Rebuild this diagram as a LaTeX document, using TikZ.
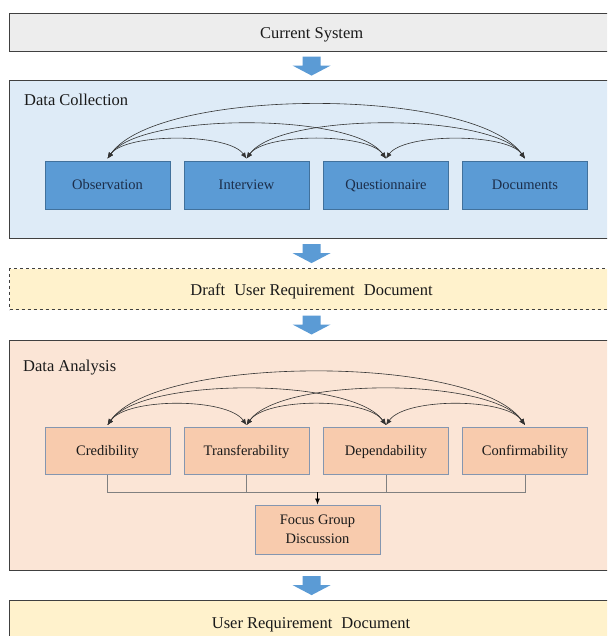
\documentclass[tikz,border=0pt]{standalone}
\usepackage{fontspec}
\setmainfont{Liberation Serif}
\usetikzlibrary{arrows.meta,calc}
\definecolor{framegray}{HTML}{404040}
\definecolor{csfill}{HTML}{EDEDED}
\definecolor{dcfill}{HTML}{DEEBF7}
\definecolor{bluebox}{HTML}{5B9BD5}
\definecolor{blueedge}{HTML}{41719C}
\definecolor{bluetext}{HTML}{1C2E4A}
\definecolor{docfill}{HTML}{FFF2CC}
\definecolor{dafill}{HTML}{FBE5D6}
\definecolor{orangebox}{HTML}{F8CBAD}
\definecolor{orangeedge}{HTML}{8496B0}
\definecolor{arrowblue}{HTML}{5B9BD5}
\definecolor{txt}{HTML}{1A1A1A}
\definecolor{connline}{HTML}{808080}
\newcommand{\bigfont}{\fontsize{16.5}{20}\selectfont}
\newcommand{\smallfont}{\fontsize{14.5}{19}\selectfont}
\newcommand{\blockarrowat}[1]{%
  \fill[arrowblue] ($(#1)+(-9,-9.5)$) -- ($(#1)+(9,-9.5)$) -- ($(#1)+(9,-0.5)$) --
    ($(#1)+(19,-0.5)$) -- ($(#1)+(0,9.5)$) -- ($(#1)+(-19,-0.5)$) -- ($(#1)+(-9,-0.5)$) -- cycle;}
\tikzset{
  outerbox/.style={draw=framegray, line width=1.2pt, anchor=north west, minimum width=604pt, inner sep=0pt, text=txt, font=\bigfont},
  biglabel/.style={text=txt, font=\bigfont, inner sep=0pt, yshift=-2pt},
  bluenode/.style={draw=blueedge, fill=bluebox, line width=0.8pt, minimum width=125pt, minimum height=48pt, inner sep=0pt, text=bluetext, font=\smallfont, text depth=1pt},
  orangenode/.style={draw=orangeedge, fill=orangebox, line width=0.9pt, minimum width=125pt, minimum height=47pt, inner sep=0pt, text=txt, font=\smallfont, text depth=1pt},
  titletext/.style={anchor=west, text=txt, font=\bigfont, inner sep=0pt, yshift=-1pt},
  arc/.style={draw=black!80, line width=0.6pt, {Latex[length=6pt,width=5pt]}-{Latex[length=6pt,width=5pt]}},
  conn/.style={draw=connline, line width=0.7pt},
}
\begin{document}
\begin{tikzpicture}[x=1pt,y=-1pt]
\useasboundingbox (0,0) rectangle (607,636);
\clip (0,0) rectangle (607,636);
\fill[white] (0,0) rectangle (607,636);

% Current System
\node[outerbox, fill=csfill, minimum height=38pt] (cs) at (9,13) {};
\node[biglabel] (cst) at (cs.center) {Current System};

% Data Collection
\node[outerbox, fill=dcfill, minimum height=158pt] (dc) at (9,80) {};
\node[titletext] (dct) at (24,99) {Data Collection};
\node[bluenode] (ob) at (107.5,185) {Observation};
\node[bluenode] (iv) at (246.5,185) {Interview};
\node[bluenode] (qu) at (386,185) {Questionnaire};
\node[bluenode] (do) at (525,185) {Documents};

\draw[arc] ([yshift=2pt]ob.north) to[out=55,in=125,looseness=0.58] ([yshift=2pt]iv.north);
\draw[arc] ([yshift=2pt]iv.north) to[out=55,in=125,looseness=0.58] ([yshift=2pt]qu.north);
\draw[arc] ([yshift=2pt]qu.north) to[out=55,in=125,looseness=0.58] ([yshift=2pt]do.north);
\draw[arc] ([yshift=2pt]ob.north) to[out=55,in=125,looseness=0.52] ([yshift=2pt]qu.north);
\draw[arc] ([yshift=2pt]iv.north) to[out=55,in=125,looseness=0.52] ([yshift=2pt]do.north);
\draw[arc] ([yshift=2pt]ob.north) to[out=55,in=125,looseness=0.54] ([yshift=2pt]do.north);

% Draft
\node[outerbox, fill=docfill, dashed, line width=1pt, minimum height=41pt] (dr) at (9,268) {};
\node[biglabel] (drt) at (dr.center) {Draft\hspace{0.3em} User Requirement\hspace{0.3em} Document};

% Data Analysis
\node[outerbox, fill=dafill, minimum height=230pt] (da) at (9,340) {};
\node[titletext] (dat) at (23,367) {Data Analysis};
\node[orangenode] (cr) at (107.5,451) {Credibility};
\node[orangenode] (tr) at (246.5,451) {Transferability};
\node[orangenode] (de) at (386,451) {Dependability};
\node[orangenode] (cf) at (525,451) {Confirmability};
\node[orangenode, minimum height=49pt, align=center] (fg) at (317.5,529.5) {Focus Group\\Discussion};

\draw[arc] ([yshift=2pt]cr.north) to[out=55,in=125,looseness=0.62] ([yshift=2pt]tr.north);
\draw[arc] ([yshift=2pt]tr.north) to[out=55,in=125,looseness=0.62] ([yshift=2pt]de.north);
\draw[arc] ([yshift=2pt]de.north) to[out=55,in=125,looseness=0.62] ([yshift=2pt]cf.north);
\draw[arc] ([yshift=2pt]cr.north) to[out=55,in=125,looseness=0.54] ([yshift=2pt]de.north);
\draw[arc] ([yshift=2pt]tr.north) to[out=55,in=125,looseness=0.54] ([yshift=2pt]cf.north);
\draw[arc] ([yshift=2pt]cr.north) to[out=55,in=125,looseness=0.53] ([yshift=2pt]cf.north);

\coordinate (bus) at (317.5,492);
\draw[conn] (cr.south) -- (cr.south |- bus) -- (cf.south |- bus) -- (cf.south);
\draw[conn] (tr.south) -- (tr.south |- bus);
\draw[conn] (de.south) -- (de.south |- bus);
\draw[draw=black, line width=0.7pt, -{Latex[length=6pt,width=5pt]}] (bus) -- (fg.north);

% User Requirement Document
\node[outerbox, fill=docfill, minimum height=60pt] (ur) at (9,600) {};
\node[biglabel] (urt) at (311,623) {User Requirement\hspace{0.3em} Document};

% block arrows
\coordinate (a1) at ($(cs.south)!0.5!(dc.north)$);
\coordinate (a2) at ($(dc.south)!0.5!(dr.north)$);
\coordinate (a3) at ($(dr.south)!0.5!(da.north)$);
\coordinate (a4) at ($(da.south)!0.5!(ur.north)$);
\blockarrowat{a1}
\blockarrowat{a2}
\blockarrowat{a3}
\blockarrowat{a4}
\end{tikzpicture}
\end{document}
